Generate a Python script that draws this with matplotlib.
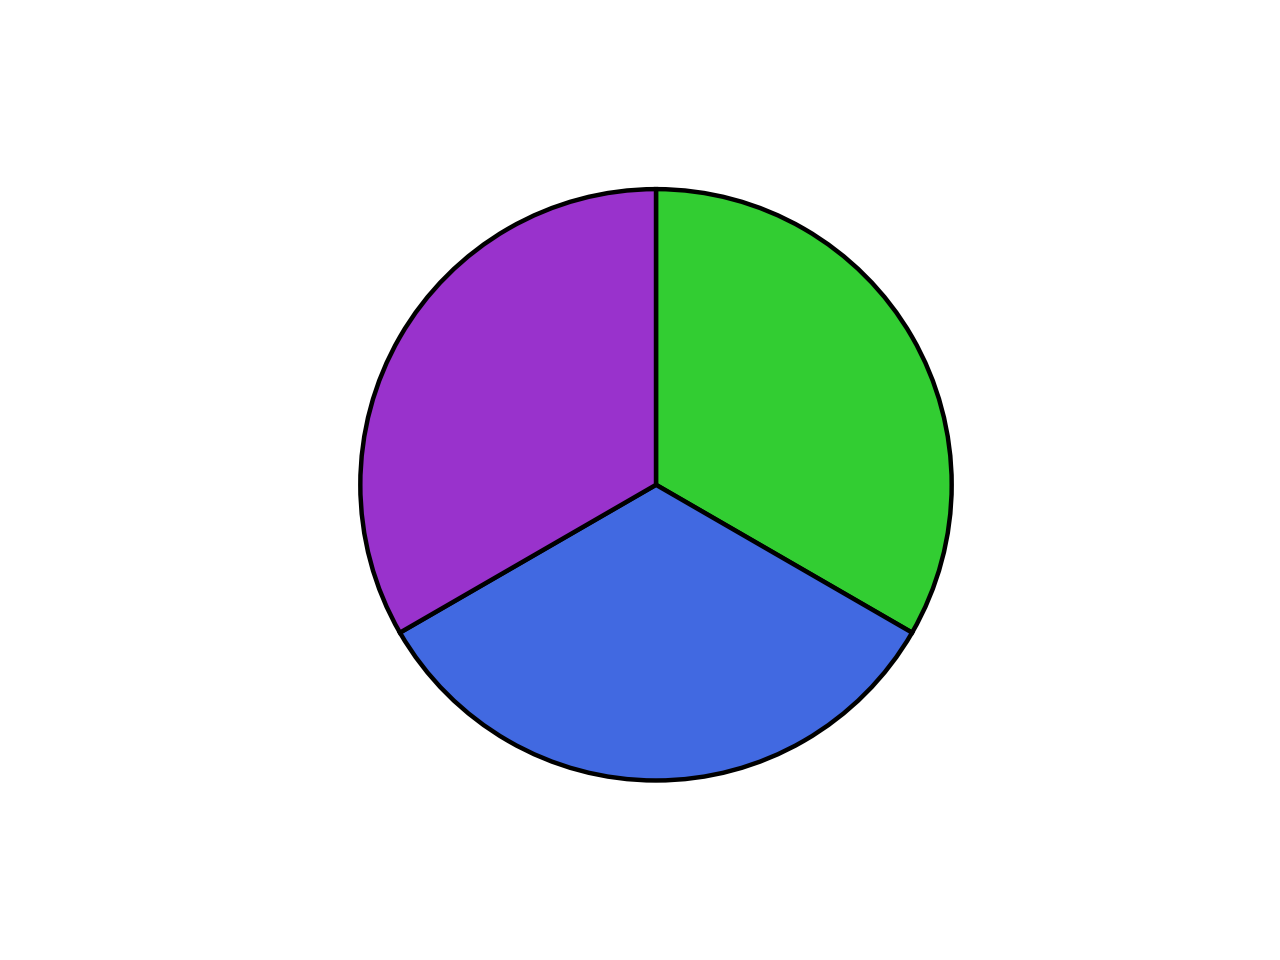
import matplotlib
matplotlib.use("Agg")
import matplotlib.pyplot as plt

sizes = [1, 1, 1]
colors = ["#32cd32", "#4169e1", "#9932cc"]

fig, ax = plt.subplots(figsize=(6.4, 4.8), dpi=200)
ax.pie(sizes, colors=colors, startangle=90, counterclock=False,
       wedgeprops={"edgecolor": "black", "linewidth": 1.6})
ax.set_aspect("equal")

plt.savefig("out.png")
plt.close(fig)
